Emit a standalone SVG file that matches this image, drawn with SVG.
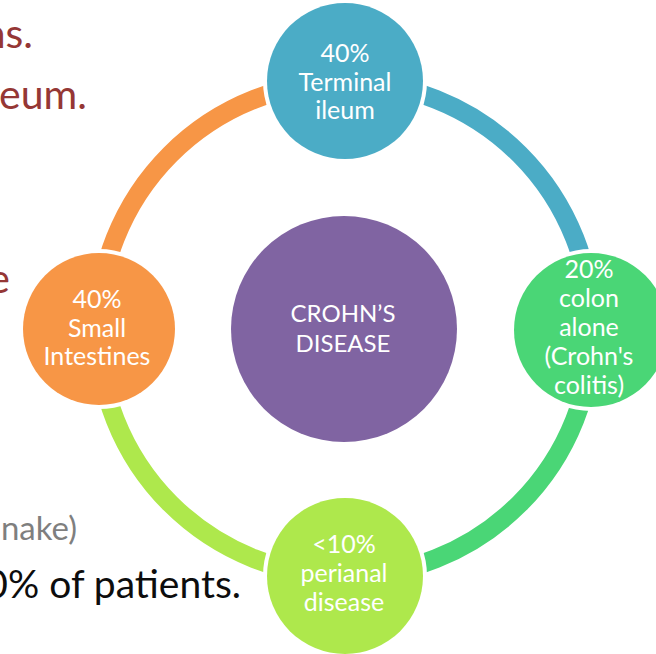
<svg xmlns="http://www.w3.org/2000/svg" width="656" height="654" viewBox="0 0 656 654">
  <style>
    .bg { font-family: Lato, "Open Sans", sans-serif; text-anchor: end; }
    .red { fill: #953735; font-size: 41px; }
    .gray { fill: #7f7f7f; font-size: 33px; }
    .blk { fill: #0d0d0d; font-size: 39px; }
    .node circle { stroke: #ffffff; stroke-width: 8; paint-order: stroke; }
    .node text { fill: #ffffff; font-family: Lato, "Open Sans", sans-serif; font-size: 25px; text-anchor: middle; }
    .arc { fill: none; stroke-width: 19; }
  </style>

  <!-- slide text behind the cycle -->
  <g id="slide-text">
    <text class="bg red" x="33" y="48">ns.</text>
    <text class="bg red" x="87" y="109">eum.</text>
    <text class="bg red" x="10" y="293">e</text>
    <text class="bg gray" x="77" y="540">nake)</text>
    <text class="bg blk" x="241" y="598">0% of patients.</text>
  </g>

  <!-- ring segments, centre (345,329), radius 247 -->
  <g id="connectors">
    <path class="arc" stroke="#4bacc6" d="M345 82 A247 247 0 0 1 592 329"/>
    <path class="arc" stroke="#4ad676" d="M592 329 A247 247 0 0 1 345 576"/>
    <path class="arc" stroke="#aee84c" d="M345 576 A247 247 0 0 1 98 329"/>
    <path class="arc" stroke="#f79646" d="M98 329 A247 247 0 0 1 345 82"/>
  </g>

  <g id="center" class="node">
    <circle cx="344" cy="329" r="113" fill="#8064a2" style="stroke:none"/>
    <text x="343" y="322" style="font-size:24px">CROHN’S</text>
    <text x="343" y="352" style="font-size:24px">DISEASE</text>
  </g>

  <g id="terminal-ileum" class="node">
    <circle cx="345" cy="81" r="78" fill="#4bacc6"/>
    <text x="345" y="62">40%</text>
    <text x="345" y="91">Terminal</text>
    <text x="345" y="119">ileum</text>
  </g>

  <g id="colon" class="node">
    <circle cx="591" cy="330" r="77" fill="#4ad676"/>
    <text x="589" y="278">20%</text>
    <text x="589" y="307">colon</text>
    <text x="589" y="336">alone</text>
    <text x="589" y="365">(Crohn's</text>
    <text x="589" y="394">colitis)</text>
  </g>

  <g id="perianal" class="node">
    <circle cx="345" cy="576" r="78" fill="#aee84c"/>
    <text x="344" y="553">&lt;10%</text>
    <text x="344" y="582">perianal</text>
    <text x="344" y="611">disease</text>
  </g>

  <g id="small-intestines" class="node">
    <circle cx="99" cy="329" r="76" fill="#f79646"/>
    <text x="97" y="308">40%</text>
    <text x="97" y="337">Small</text>
    <text x="97" y="365">Intestines</text>
  </g>
</svg>
